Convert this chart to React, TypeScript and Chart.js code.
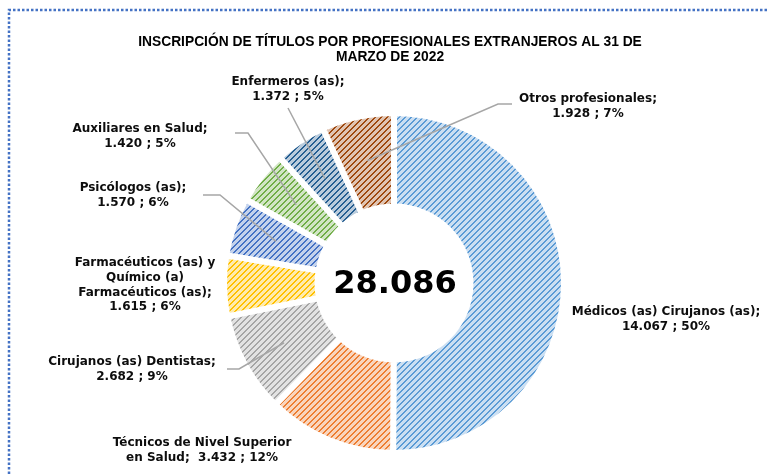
import React, { useEffect, useRef } from 'react';
import { Chart, registerables } from 'chart.js';

Chart.register(...registerables);

// ---------- data ----------
const categories = [
  'Médicos (as) Cirujanos (as)',
  'Técnicos de Nivel Superior en Salud',
  'Cirujanos (as) Dentistas',
  'Farmacéuticos (as) y Químico (a) Farmacéuticos (as)',
  'Psicólogos (as)',
  'Auxiliares en Salud',
  'Enfermeros (as)',
  'Otros profesionales',
];
const values = [14067, 3432, 2682, 1615, 1570, 1420, 1372, 1928];
const labelTexts: string[][] = [
  ['Médicos (as) Cirujanos (as);', '14.067 ; 50%'],
  ['Técnicos de Nivel Superior', 'en Salud;  3.432 ; 12%'],
  ['Cirujanos (as) Dentistas;', '2.682 ; 9%'],
  ['Farmacéuticos (as) y', 'Químico (a)', 'Farmacéuticos (as);', '1.615 ; 6%'],
  ['Psicólogos (as);', '1.570 ; 6%'],
  ['Auxiliares en Salud;', '1.420 ; 5%'],
  ['Enfermeros (as);', '1.372 ; 5%'],
  ['Otros profesionales;', '1.928 ; 7%'],
];
const totalLabel = '28.086';
const titleLines = [
  'INSCRIPCIÓN DE TÍTULOS POR PROFESIONALES EXTRANJEROS AL 31 DE',
  'MARZO DE 2022',
];
const sliceColors = ['#5B9BD5', '#ED7D31', '#A5A5A5', '#FFC000', '#4472C4', '#70AD47', '#255E91', '#9E480E'];

// ---------- layout (label anchors, leader start points) ----------
type Lay = { x: number; y: number; lead?: number[][] };
const labelLayout: Lay[] = [
  { x: 666, y: 312 },
  { x: 202, y: 443 },
  { x: 132, y: 362, lead: [[227, 369], [239, 369]] },
  { x: 145, y: 263 },
  { x: 133, y: 188, lead: [[203, 195], [220, 195]] },
  { x: 140, y: 129, lead: [[235, 133], [248, 133]] },
  { x: 288, y: 82, lead: [[288, 108]] },
  { x: 588, y: 99, lead: [[512, 104], [498, 104]] },
];

function tint(hex: string, t: number): string {
  const n = parseInt(hex.slice(1), 16);
  const r = (n >> 16) & 255, g = (n >> 8) & 255, b = n & 255;
  const m = (c: number) => Math.round(c + (255 - c) * t);
  return `rgb(${m(r)},${m(g)},${m(b)})`;
}

function makePattern(color: string): CanvasPattern | string {
  const c = document.createElement('canvas');
  const s = 6;
  c.width = s;
  c.height = s;
  const g = c.getContext('2d');
  if (!g) return color;
  g.fillStyle = tint(color, 0.68);
  g.fillRect(0, 0, s, s);
  g.fillStyle = color;
  for (let i = 0; i < s; i++) {
    g.fillRect(i, s - 1 - i, 1, 1);
    g.fillRect((i + 1) % s, s - 1 - i, 1, 1);
  }
  return g.createPattern(c, 'repeat') || color;
}

const overlayPlugin = {
  id: 'overlay',
  afterDraw(chart: any) {
    const ctx: CanvasRenderingContext2D = chart.ctx;
    const meta = chart.getDatasetMeta(0);
    ctx.save();

    // dotted frame
    ctx.strokeStyle = '#4472C4';
    ctx.lineWidth = 2.5;
    ctx.setLineDash([2.5, 2]);
    ctx.beginPath();
    ctx.moveTo(9, 474);
    ctx.lineTo(9, 10);
    ctx.lineTo(767, 10);
    ctx.stroke();
    ctx.setLineDash([]);

    // title
    ctx.fillStyle = '#000';
    ctx.textAlign = 'center';
    ctx.textBaseline = 'middle';
    ctx.font = 'bold 13.8px "Liberation Sans", Arial, sans-serif';
    titleLines.forEach((t, i) => ctx.fillText(t, 390, 42 + i * 15));

    // leader lines
    ctx.strokeStyle = '#A6A6A6';
    ctx.lineWidth = 1.5;
    meta.data.forEach((arc: any, i: number) => {
      const lay = labelLayout[i];
      if (!lay.lead) return;
      const p = arc.getProps(['x', 'y', 'startAngle', 'endAngle', 'innerRadius', 'outerRadius'], true);
      const mid = (p.startAngle + p.endAngle) / 2;
      const r = p.innerRadius + (p.outerRadius - p.innerRadius) * 0.52;
      const ex = p.x + Math.cos(mid) * r;
      const ey = p.y + Math.sin(mid) * r;
      ctx.beginPath();
      ctx.moveTo(lay.lead[0][0], lay.lead[0][1]);
      for (let k = 1; k < lay.lead.length; k++) ctx.lineTo(lay.lead[k][0], lay.lead[k][1]);
      ctx.lineTo(ex, ey);
      ctx.stroke();
    });

    // labels
    ctx.fillStyle = '#0D0D0D';
    ctx.font = 'bold 12px "DejaVu Sans", Verdana, sans-serif';
    labelTexts.forEach((lines, i) => {
      const lay = labelLayout[i];
      lines.forEach((ln, k) => ctx.fillText(ln, lay.x, lay.y + k * 14.7));
    });

    // center total
    const a0 = meta.data[0];
    ctx.font = 'bold 32px "DejaVu Sans", Verdana, sans-serif';
    ctx.fillStyle = '#000';
    ctx.fillText(totalLabel, a0.x + 1, a0.y + 2);
    ctx.restore();
  },
};

export default function App() {
  const ref = useRef<HTMLCanvasElement | null>(null);
  useEffect(() => {
    document.body.style.margin = '0';
    const canvas = ref.current;
    if (!canvas) return;
    const chart = new Chart(canvas, {
      type: 'doughnut',
      data: {
        labels: categories,
        datasets: [
          {
            data: values,
            backgroundColor: sliceColors.map((c) => makePattern(c)) as any,
            borderColor: '#ffffff',
            borderWidth: 6,
            borderJoinStyle: 'miter',
          },
        ],
      },
      options: {
        responsive: false,
        animation: false,
        radius: 170,
        cutout: '45%',
        layout: { padding: { left: 194, right: 173, top: 103, bottom: 11 } },
        plugins: {
          legend: { display: false },
          tooltip: { enabled: false },
          title: { display: false },
        },
      } as any,
      plugins: [overlayPlugin],
    });
    return () => chart.destroy();
  }, []);
  return (
    <div style={{ width: 767, height: 474, background: '#fff' }}>
      <canvas ref={ref} width={767} height={474} style={{ display: 'block' }} />
    </div>
  );
}
